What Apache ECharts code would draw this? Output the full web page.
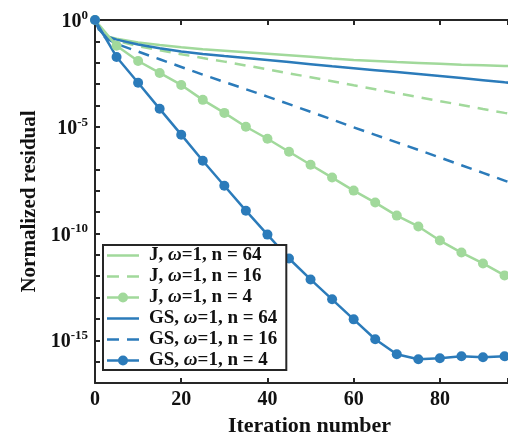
<!DOCTYPE html>
<html>
<head>
<meta charset="utf-8">
<script src="https://cdn.jsdelivr.net/npm/echarts@6/dist/echarts.min.js"></script>
<style>
  html, body { margin: 0; padding: 0; background: #fff; }
  #container { width: 508px; height: 433px; }
</style>
</head>
<body>
<div id="container"></div>
<script>
// iteration numbers
const iterFine = [0, 1, 2, 3, 5, 10, 15, 20, 25, 30, 35, 40, 45, 50, 55, 60, 65, 70, 75, 80, 85, 90, 95, 100];
const iterMarked = [0, 5, 10, 15, 20, 25, 30, 35, 40, 45, 50, 55, 60, 65, 70, 75, 80, 85, 90, 95, 100];

// residuals, written as log10 exponents
const j64Log = [0, -0.45, -0.68, -0.78, -0.88, -1.05, -1.17, -1.28, -1.37, -1.44, -1.51, -1.58, -1.65, -1.72, -1.8, -1.87, -1.92, -1.97, -2.01, -2.05, -2.09, -2.12, -2.15, -2.18];
const j16Log = [0, -0.45, -0.7, -0.82, -0.98, -1.22, -1.42, -1.6, -1.78, -1.95, -2.13, -2.31, -2.5, -2.68, -2.87, -3.06, -3.24, -3.43, -3.61, -3.8, -3.98, -4.17, -4.35, -4.52];
const j4Log = [0, -1.21, -1.92, -2.48, -3.04, -3.74, -4.35, -5.0, -5.56, -6.17, -6.78, -7.38, -7.99, -8.55, -9.16, -9.67, -10.33, -10.89, -11.4, -11.96, -12.5];
const gs64Log = [0, -0.45, -0.68, -0.78, -0.92, -1.15, -1.32, -1.47, -1.59, -1.69, -1.78, -1.87, -1.97, -2.07, -2.17, -2.26, -2.35, -2.44, -2.53, -2.62, -2.72, -2.82, -2.92, -3.0];
const gs16Log = [0, -0.5, -0.75, -0.9, -1.12, -1.48, -1.84, -2.2, -2.56, -2.9, -3.24, -3.59, -3.94, -4.3, -4.66, -5.03, -5.38, -5.73, -6.08, -6.44, -6.8, -7.16, -7.52, -7.88];
const gs4Log = [0, -1.73, -2.94, -4.16, -5.37, -6.59, -7.76, -8.93, -10.05, -11.17, -12.15, -13.08, -14.02, -14.95, -15.65, -15.89, -15.84, -15.75, -15.79, -15.75, -15.78];

const seriesNames = ['J, ω=1, n = 64', 'J, ω=1, n = 16', 'J, ω=1, n = 4', 'GS, ω=1, n = 64', 'GS, ω=1, n = 16', 'GS, ω=1, n = 4'];
const xTicks = [0, 20, 40, 60, 80];

const green = '#a1d99b';
const blue = '#2b7bba';
const axisCol = '#262626';
const font = 'Liberation Serif';

// legend glyphs (solid line, dashed line, line with dot)
const iconSolid = 'path://M0,4.25h32v2.5h-32z';
const iconDashed = 'path://M0,4.25h12v2.5h-12z M20,4.25h12v2.5h-12z';
const iconDot = 'path://M0,4.25h32v2.5h-32z M11,5.5A5,5 0 1 1 21,5.5A5,5 0 1 1 11,5.5z';
const legendIcons = [iconSolid, iconDashed, iconDot, iconSolid, iconDashed, iconDot];

function pairs(xs, logs) {
  return xs.map((x, i) => [x, Math.pow(10, logs[i])]);
}

function makeLine(name, xs, logs, color, dashed, marked) {
  return {
    name: name,
    type: 'line',
    data: pairs(xs, logs),
    clip: false,
    symbol: marked ? 'circle' : 'none',
    symbolSize: 10,
    showSymbol: marked,
    itemStyle: { color: color },
    lineStyle: { color: color, width: 2.5, type: dashed ? [11, 8] : 'solid' },
    emphasis: { disabled: true },
    z: marked ? 3 : 2
  };
}

let option = {
  animation: false,
  grid: { left: 95, right: 0, top: 20, bottom: 50, outerBoundsMode: 'none' },
  legend: {
    orient: 'vertical',
    left: 103,
    top: 245,
    data: seriesNames.map((n, i) => ({ name: n, icon: legendIcons[i] })),
    symbolKeepAspect: true,
    itemWidth: 32,
    itemHeight: 12,
    itemGap: 2,
    padding: [1, 9, 0, 4],
    borderColor: axisCol,
    borderWidth: 2,
    borderRadius: 0,
    backgroundColor: '#fff',
    itemStyle: { borderWidth: 0 },
    formatter(name) {
      return name.replace('ω', '{w|ω}');
    },
    textStyle: {
      fontFamily: font,
      fontWeight: 'bold',
      fontSize: 19,
      lineHeight: 18,
      color: '#111',
      padding: [0, 0, 0, 5],
      rich: {
        w: { fontFamily: font, fontStyle: 'italic', fontWeight: 'bold', fontSize: 19, lineHeight: 18, color: '#111' }
      }
    }
  },
  xAxis: [
    {
      type: 'value',
      min: 0,
      max: 95.8,
      interval: 20,
      name: 'Iteration number',
      nameLocation: 'middle',
      nameGap: 27,
      nameTextStyle: { fontFamily: font, fontWeight: 'bold', fontSize: 22, color: '#111', padding: [0, 0, 0, 16] },
      axisLine: { lineStyle: { color: axisCol, width: 2 } },
      axisTick: { inside: true, length: 5, lineStyle: { color: axisCol, width: 2 } },
      axisLabel: {
        margin: 7,
        fontFamily: font,
        fontWeight: 'bold',
        fontSize: 20,
        color: '#111',
        formatter(v) { return xTicks.includes(v) ? String(v) : ''; }
      },
      splitLine: { show: false }
    },
    {
      type: 'value',
      position: 'top',
      min: 0,
      max: 95.8,
      interval: 20,
      axisLine: { lineStyle: { color: axisCol, width: 2 } },
      axisTick: { inside: true, length: 5, lineStyle: { color: axisCol, width: 2 } },
      axisLabel: { show: false },
      splitLine: { show: false }
    }
  ],
  yAxis: {
    type: 'log',
    logBase: 10,
    min: 1e-17,
    max: 1,
    interval: 1,
    name: 'Normalized residual',
    nameLocation: 'middle',
    nameRotate: 90,
    nameGap: 53,
    nameTextStyle: { fontFamily: font, fontWeight: 'bold', fontSize: 21, color: '#111' },
    axisLine: { show: true, lineStyle: { color: axisCol, width: 2 } },
    axisTick: { show: true, inside: true, length: 5, lineStyle: { color: axisCol, width: 2 } },
    axisLabel: {
      margin: 7,
      formatter(v) {
        let e = Math.round(Math.log10(v));
        if (e % 5 !== 0) return '';
        return '{b|10}{s|' + e + '}';
      },
      rich: {
        b: { fontFamily: font, fontWeight: 'bold', fontSize: 20, color: '#111', padding: [4, 0, 0, 0] },
        s: { fontFamily: font, fontWeight: 'bold', fontSize: 13, color: '#111', verticalAlign: 'bottom', padding: [0, 0, 10, 0] }
      }
    },
    splitLine: { show: false }
  },
  series: [
    makeLine(seriesNames[0], iterFine, j64Log, green, false, false),
    makeLine(seriesNames[1], iterFine, j16Log, green, true, false),
    makeLine(seriesNames[2], iterMarked, j4Log, green, false, true),
    makeLine(seriesNames[3], iterFine, gs64Log, blue, false, false),
    makeLine(seriesNames[4], iterFine, gs16Log, blue, true, false),
    makeLine(seriesNames[5], iterMarked, gs4Log, blue, false, true)
  ]
};

let myChart = echarts.init(document.getElementById('container'));
myChart.setOption(option);
</script>
</body>
</html>
